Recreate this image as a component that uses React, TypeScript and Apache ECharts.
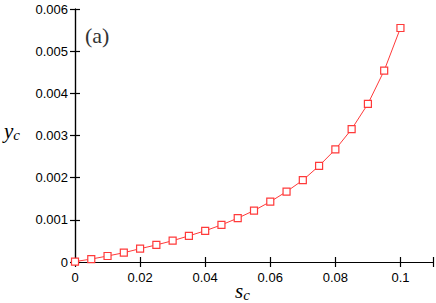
import React, { useEffect, useRef } from "react";
import * as echarts from "echarts";

const sc = [0, 0.005, 0.01, 0.015, 0.02, 0.025, 0.03, 0.035, 0.04, 0.045, 0.05, 0.055, 0.06, 0.065, 0.07, 0.075, 0.08, 0.085, 0.09, 0.095, 0.1];
const yc = [0.00001, 0.00007, 0.000142, 0.00022, 0.000316, 0.000405, 0.000505, 0.00062, 0.00074, 0.00088, 0.00104, 0.00122, 0.00143, 0.00167, 0.00194, 0.00228, 0.00267, 0.00315, 0.00375, 0.00454, 0.00555];
const xTickLabels: Record<string, string> = { "0": "0", "0.02": "0.02", "0.04": "0.04", "0.06": "0.06", "0.08": "0.08", "0.1": "0.1" };
const yTickLabels: Record<string, string> = { "0": "0", "0.001": "0.001", "0.002": "0.002", "0.003": "0.003", "0.004": "0.004", "0.005": "0.005", "0.006": "0.006" };

const RED = "#ff3a3a";
const SANS = "'Liberation Sans', Arial, sans-serif";
const SERIF = "'Liberation Serif', 'DejaVu Serif', serif";

export default function App() {
  const ref = useRef<HTMLDivElement>(null);
  useEffect(() => {
    if (!ref.current) return;
    const chart = echarts.init(ref.current, null, { renderer: "svg" });
    const axisLine = { show: true, lineStyle: { color: "#000", width: 1.2 } };
    const tick = { show: true, inside: true, length: 5, lineStyle: { color: "#000", width: 1.2 } };
    const rich = {
      m: { fontFamily: SERIF, fontStyle: "italic", fontSize: 21, fill: "#000" },
      s: { fontFamily: SERIF, fontStyle: "italic", fontSize: 15, fill: "#000", padding: [8, 0, 0, 0] },
    };
    chart.setOption({
      animation: false,
      backgroundColor: "#fff",
      grid: { left: 75, top: 9, width: 360, height: 253, containLabel: false },
      xAxis: [
        {
          type: "value", min: 0, max: 0.11, interval: 0.02,
          axisLine, axisTick: tick, splitLine: { show: false },
          axisLabel: {
            margin: 9, color: "#000", fontFamily: SANS, fontSize: 13,
            formatter: (v: number) => { const k = String(+v.toFixed(3)); return xTickLabels[k] ?? ""; },
          },
        },
        {
          type: "value", position: "top", min: 0, max: 0.11, interval: 0.02,
          axisLine, axisTick: tick, axisLabel: { show: false }, splitLine: { show: false },
        },
      ],
      yAxis: [
        {
          type: "value", min: 0, max: 0.006, interval: 0.001,
          axisLine, axisTick: tick, splitLine: { show: false },
          axisLabel: {
            margin: 7, color: "#000", fontFamily: SANS, fontSize: 13,
            formatter: (v: number) => { const k = String(+v.toFixed(4)); return yTickLabels[k] ?? ""; },
          },
        },
        {
          type: "value", position: "right", min: 0, max: 0.006, interval: 0.001,
          axisLine, axisTick: tick, axisLabel: { show: false }, splitLine: { show: false },
        },
      ],
      series: [
        {
          type: "line",
          data: sc.map((s, i) => [s, yc[i]]),
          symbol: "rect",
          symbolSize: 7,
          lineStyle: { color: RED, width: 1 },
          itemStyle: { color: "#fff", borderColor: RED, borderWidth: 1.2 },
          z: 3,
        },
      ],
      graphic: [
        { type: "text", left: 85, top: 24, style: { text: "(a)", font: `22px ${SERIF}`, fill: "#333" } },
        { type: "text", left: 235, top: 280, style: { text: "{m|s}{s|c}", rich } },
        { type: "text", left: 4, top: 120, style: { text: "{m|y}{s|c}", rich } },
      ],
    });
    return () => chart.dispose();
  }, []);
  return <div ref={ref} style={{ width: 436, height: 303, position: "absolute", left: 0, top: 0 }} />;
}
